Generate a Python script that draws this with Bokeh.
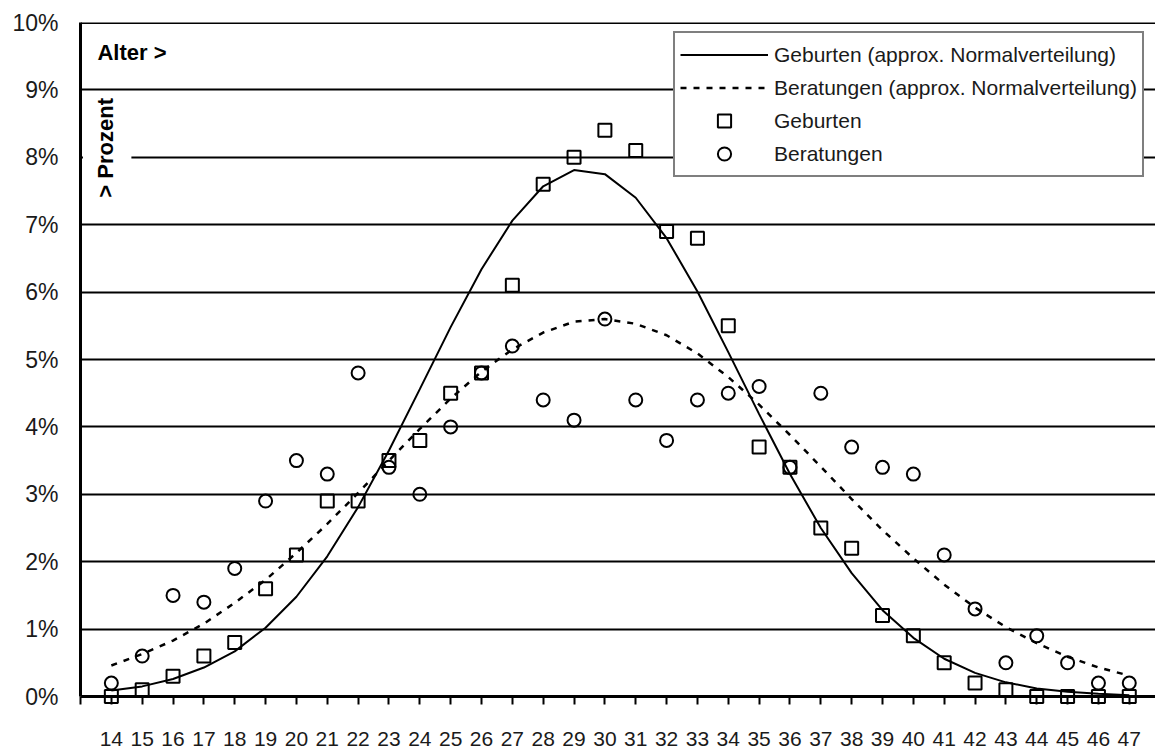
import math
from bokeh.plotting import figure
from bokeh.models import (Range1d, FixedTicker, Legend, LegendItem, Label,
                          BoxAnnotation, Span)
from bokeh.embed import file_html
from bokeh.resources import INLINE

# ---------------- data ----------------
ages = list(range(14, 48))
geburten = [0.0, 0.1, 0.3, 0.6, 0.8, 1.6, 2.1, 2.9, 2.9, 3.5, 3.8, 4.5, 4.8, 6.1,
            7.6, 8.0, 8.4, 8.1, 6.9, 6.8, 5.5, 3.7, 3.4, 2.5, 2.2, 1.2, 0.9, 0.5,
            0.2, 0.1, 0.0, 0.0, 0.0, 0.0]
beratungen = [0.2, 0.6, 1.5, 1.4, 1.9, 2.9, 3.5, 3.3, 4.8, 3.4, 3.0, 4.0, 4.8, 5.2,
              4.4, 4.1, 5.6, 4.4, 3.8, 4.4, 4.5, 4.6, 3.4, 4.5, 3.7, 3.4, 3.3, 2.1,
              1.3, 0.5, 0.9, 0.5, 0.2, 0.2]
geburten_nv = [0.09, 0.15, 0.26, 0.43, 0.67, 1.02, 1.48, 2.08, 2.81, 3.65, 4.56,
               5.48, 6.34, 7.06, 7.57, 7.81, 7.75, 7.40, 6.80, 6.01, 5.11, 4.19,
               3.30, 2.50, 1.83, 1.28, 0.87, 0.56, 0.35, 0.21, 0.12, 0.07, 0.04, 0.02]
beratungen_nv = [0.46, 0.63, 0.83, 1.08, 1.39, 1.73, 2.13, 2.56, 3.02, 3.50, 3.97,
                 4.42, 4.82, 5.15, 5.40, 5.56, 5.60, 5.53, 5.36, 5.09, 4.74, 4.33,
                 3.88, 3.41, 2.93, 2.47, 2.05, 1.66, 1.32, 1.03, 0.79, 0.59, 0.43, 0.31]
y_ticks = list(range(0, 11))
y_tick_labels = {t: f"{t}%" for t in y_ticks}
x_ticks = list(range(13, 48))
x_tick_labels = {13: ""}
legend_labels = ["Geburten (approx. Normalverteilung)",
                 "Beratungen (approx. Normalverteilung)",
                 "Geburten", "Beratungen"]

FONT = "Liberation Sans"
INK = "#000000"
TXT = "#1a1a1a"

p = figure(width=1155, height=749,
           x_range=Range1d(13, 47.85), y_range=Range1d(0, 10),
           output_backend="svg", toolbar_location=None,
           min_border_left=80, min_border_right=0,
           min_border_top=22, min_border_bottom=53)
p.outline_line_color = None
p.background_fill_color = "white"
p.border_fill_color = "white"

# y axis
p.yaxis.ticker = FixedTicker(ticks=y_ticks)
p.yaxis.major_label_overrides = y_tick_labels
p.yaxis.axis_line_width = 3
p.yaxis.axis_line_color = INK
p.yaxis.major_tick_out = 0
p.yaxis.major_tick_in = 0
p.yaxis.minor_tick_out = 0
p.yaxis.minor_tick_in = 0
p.yaxis.major_label_standoff = 22
p.yaxis.major_label_text_font = FONT
p.yaxis.major_label_text_font_size = "23px"
p.yaxis.major_label_text_color = TXT

# x axis
p.xaxis.ticker = FixedTicker(ticks=x_ticks)
p.xaxis.major_label_overrides = x_tick_labels
p.xaxis.axis_line_width = 3
p.xaxis.axis_line_color = INK
p.xaxis.major_tick_out = 8
p.xaxis.major_tick_in = 0
p.xaxis.major_tick_line_width = 2
p.xaxis.major_tick_line_color = INK
p.xaxis.minor_tick_out = 0
p.xaxis.minor_tick_in = 0
p.xaxis.major_label_standoff = 27
p.xaxis.major_label_text_font = FONT
p.xaxis.major_label_text_font_size = "21px"
p.xaxis.major_label_text_color = TXT

# grid
p.xgrid.grid_line_color = None
p.ygrid.ticker = FixedTicker(ticks=list(range(1, 10)))
p.ygrid.grid_line_color = INK
p.ygrid.grid_line_width = 2

# top border line
p.add_layout(Span(location=10, dimension="width", line_color=INK, line_width=3))

# curves
l_geb = p.line(ages, geburten_nv, line_color=INK, line_width=2)
l_ber = p.line(ages, beratungen_nv, line_color=INK, line_width=2.5, line_dash="6 7")
# points (overlay level so that markers on the 0 line are not cut)
s_geb = p.scatter(ages, geburten, marker="square", size=13, line_color=INK,
                  line_width=2, fill_alpha=0, level="overlay")
s_ber = p.scatter(ages, beratungen, marker="circle", size=13, line_color=INK,
                  line_width=2, fill_alpha=0, level="overlay")

# white patch behind the rotated label
p.add_layout(BoxAnnotation(left=13.08, right=14.65, bottom=7.3, top=8.75,
                           fill_color="white", fill_alpha=1, line_color=None))
p.add_layout(Label(x=13.55, y=9.555, text="Alter >", text_font=FONT,
                   text_font_size="22px", text_font_style="bold",
                   text_baseline="middle", text_align="left", text_color=INK))
p.add_layout(Label(x=13.81, y=8.14, text="> Prozent", angle=math.pi / 2,
                   text_font=FONT, text_font_size="22px", text_font_style="bold",
                   text_baseline="middle", text_align="center", text_color=INK))

legend = Legend(items=[LegendItem(label=legend_labels[0], renderers=[l_geb]),
                       LegendItem(label=legend_labels[1], renderers=[l_ber]),
                       LegendItem(label=legend_labels[2], renderers=[s_geb]),
                       LegendItem(label=legend_labels[3], renderers=[s_ber])],
                location=(593, 519))
legend.border_line_color = INK
legend.border_line_width = 2
legend.background_fill_color = "white"
legend.background_fill_alpha = 1
legend.label_text_font = FONT
legend.label_text_font_size = "21px"
legend.label_text_color = TXT
legend.glyph_width = 88
legend.glyph_height = 33
legend.label_height = 33
legend.spacing = 0
legend.padding = 5
legend.margin = 0
legend.label_standoff = 6
p.add_layout(legend)

open("out.html", "w").write(file_html(p, INLINE))
